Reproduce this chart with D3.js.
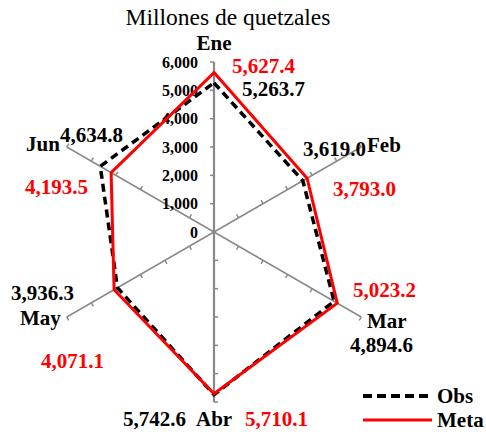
<!DOCTYPE html>
<html>
<head>
<meta charset="utf-8">
<script src="https://cdn.jsdelivr.net/npm/d3@7"></script>
<style>
  html, body { margin: 0; padding: 0; background: #fff; }
  svg { display: block; }
  text { font-family: 'Liberation Serif', 'Times New Roman', serif; }
</style>
</head>
<body>
<div id="chart"></div>
<script>
// ---------------------------------------------------------------
// Data
// ---------------------------------------------------------------
var months   = ['Ene', 'Feb', 'Mar', 'Abr', 'May', 'Jun'];
var obsVals  = [5263.7, 3619.0, 4894.6, 5742.6, 3936.3, 4634.8];
var metaVals = [5627.4, 3793.0, 5023.2, 5710.1, 4071.1, 4193.5];
var tickVals = [0, 1000, 2000, 3000, 4000, 5000, 6000];
var seriesNames = ['Obs', 'Meta'];

(function () {
  'use strict';

  var W = 486, H = 432;
  var cx = 214, cy = 232;
  var gray = '#898989';
  var fmt = d3.format(',.1f');

  var svg = d3.select('#chart').append('svg')
    .attr('width', W).attr('height', H)
    .attr('viewBox', '0 0 ' + W + ' ' + H);

  var r = d3.scaleLinear().domain([0, 6000]).range([0, 170]);
  var step = 2 * Math.PI / months.length;

  // screen angle: Ene points up, going clockwise
  function ang(i) { return -Math.PI / 2 + i * step; }

  // title
  svg.append('text')
    .attr('x', 228).attr('y', 25)
    .attr('text-anchor', 'middle')
    .attr('font-size', 23.5)
    .text('Millones de quetzales');

  var g = svg.append('g').attr('transform', 'translate(' + cx + ',' + cy + ')');

  // spokes
  var tickSide = [1, 1, -1, 1, 1, -1];   // which side the small ticks sit on
  months.forEach(function (m, i) {
    var a = ang(i), dx = Math.cos(a), dy = Math.sin(a);
    var R = r(6000);
    g.append('line')
      .attr('x1', 0).attr('y1', 0)
      .attr('x2', R * dx).attr('y2', R * dy)
      .attr('stroke', gray)
      .attr('stroke-width', (i === 0 || i === 3) ? 2.2 : 1.5);

    var px = dy * tickSide[i], py = -dx * tickSide[i];
    g.selectAll(null)
      .data(tickVals.slice(1))
      .join('line')
      .attr('x1', function (v) { return r(v) * dx; })
      .attr('y1', function (v) { return r(v) * dy; })
      .attr('x2', function (v) { return r(v) * dx + 4 * px; })
      .attr('y2', function (v) { return r(v) * dy + 4 * py; })
      .attr('stroke', gray)
      .attr('stroke-width', 1.5);
  });

  // value axis labels
  g.selectAll('text.tick')
    .data(tickVals)
    .join('text')
    .attr('class', 'tick')
    .attr('x', -16)
    .attr('y', function (v) { return -r(v) + 5.5; })
    .attr('text-anchor', 'end')
    .attr('font-size', 16)
    .attr('font-weight', 'bold')
    .text(d3.format(','));

  // series
  var radial = d3.lineRadial()
    .angle(function (d, i) { return i * step; })
    .radius(function (d) { return r(d); })
    .curve(d3.curveLinearClosed);

  g.append('path')
    .attr('d', radial(obsVals))
    .attr('fill', 'none')
    .attr('stroke', '#000')
    .attr('stroke-width', 3.5)
    .attr('stroke-dasharray', '8,5')
    .attr('stroke-linejoin', 'miter');

  g.append('path')
    .attr('d', radial(metaVals))
    .attr('fill', 'none')
    .attr('stroke', '#ff0000')
    .attr('stroke-width', 3)
    .attr('stroke-linejoin', 'miter');

  // category labels (absolute layout, excel-ish placement)
  var catPos = [[214, 50, 'middle'], [367, 152, 'start'], [367, 328, 'start'],
                [196, 426, 'start'], [20, 325, 'start'], [26, 151, 'start']];
  svg.selectAll('text.cat')
    .data(months)
    .join('text')
    .attr('class', 'cat')
    .attr('x', function (d, i) { return catPos[i][0]; })
    .attr('y', function (d, i) { return catPos[i][1]; })
    .attr('text-anchor', function (d, i) { return catPos[i][2]; })
    .attr('font-size', 21)
    .attr('font-weight', 'bold')
    .text(function (d) { return d; });

  // data labels
  var obsPos  = [[242, 96], [303, 156], [350, 352], [123, 426], [11, 300], [60, 142]];
  var metaPos = [[232, 73], [333, 196], [353, 297], [245, 426], [41, 368], [25, 194]];

  function labels(vals, pos, color, cls) {
    svg.selectAll('text.' + cls)
      .data(vals)
      .join('text')
      .attr('class', cls)
      .attr('x', function (d, i) { return pos[i][0]; })
      .attr('y', function (d, i) { return pos[i][1]; })
      .attr('font-size', 21)
      .attr('font-weight', 'bold')
      .attr('fill', color)
      .text(function (d) { return fmt(d); });
  }
  labels(obsVals, obsPos, '#000', 'lab-obs');
  labels(metaVals, metaPos, '#ff0000', 'lab-meta');

  // legend
  var leg = svg.append('g');
  var legStyle = [
    { stroke: '#000', width: 4, dash: '9,5', y: 396 },
    { stroke: '#ff0000', width: 3, dash: null, y: 420 }
  ];
  seriesNames.forEach(function (name, i) {
    var s = legStyle[i];
    leg.append('line')
      .attr('x1', 363).attr('x2', 432)
      .attr('y1', s.y).attr('y2', s.y)
      .attr('stroke', s.stroke)
      .attr('stroke-width', s.width)
      .attr('stroke-dasharray', s.dash);
    leg.append('text')
      .attr('x', 437).attr('y', s.y + 7)
      .attr('font-size', 21)
      .attr('font-weight', 'bold')
      .text(name);
  });
})();
</script>
</body>
</html>
